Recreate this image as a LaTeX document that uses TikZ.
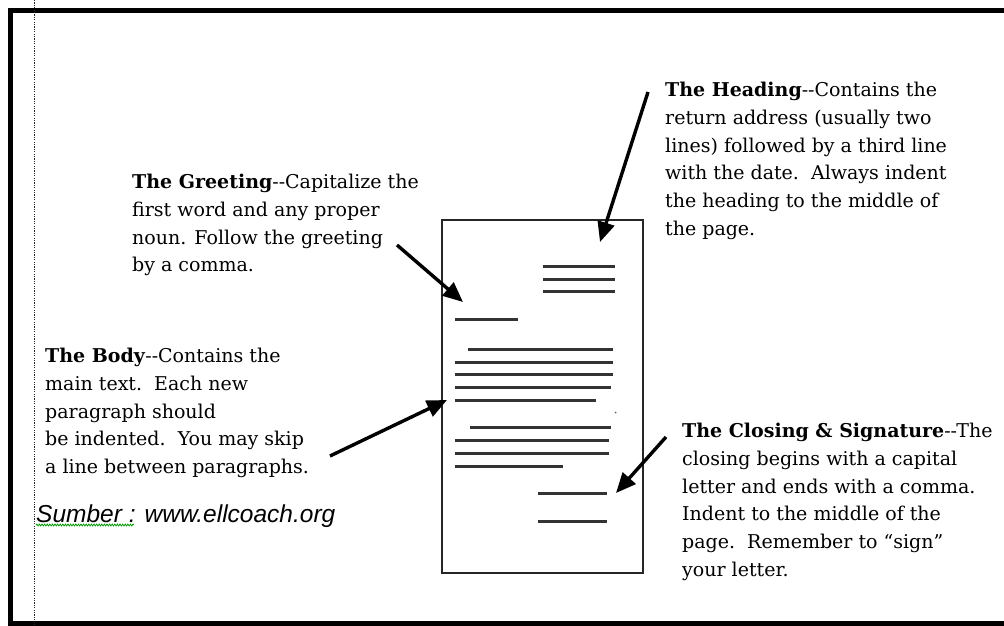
\documentclass[tikz,border=0pt]{standalone}
\usepackage{fontspec}
\setmainfont{DejaVu Serif}
\newfontfamily\srcfont{Liberation Sans}
\usetikzlibrary{arrows.meta,decorations.pathmorphing}
\begin{document}
\begin{tikzpicture}[x=1pt,y=-1pt,
  frame/.style={line width=4.5pt,black},
  guide/.style={black!85,line width=1.4pt,dash pattern=on 1.2pt off 1.2pt},
  page/.style={draw=black!85,line width=1.8pt,inner sep=0pt,anchor=north west},
  textline/.style={black!80,line width=3pt},
  pointer/.style={line width=3.4pt,-{Triangle[length=20pt,width=17pt]}},
  note/.style={anchor=north west,inner sep=0pt,align=left,font=\fontsize{19}{27.7}\selectfont},
  squiggle/.style={green!60!black,line width=0.8pt,decorate,decoration={snake,amplitude=0.9pt,segment length=2.6pt}},
]
\useasboundingbox (0,0) rectangle (1004,626);
\fill[white] (0,0) rectangle (1004,626);
% outer frame
\draw[frame] (1004,10.5) -- (10.5,10.5) -- (10.5,623.5) -- (1004,623.5);
% dotted guide
\draw[guide] (34.5,0) -- (34.5,626);

% the letter page
\node[page,minimum width=201pt,minimum height=353pt] (doc) at (441,219) {};
% heading lines
\draw[textline] (543,266) -- (615,266);
\draw[textline] (543,279) -- (615,279);
\draw[textline] (543,291) -- (615,291);
% greeting
\draw[textline] (455,319) -- (518,319);
% body paragraph 1
\draw[textline] (468,349) -- (613,349);
\draw[textline] (455,362) -- (613,362);
\draw[textline] (455,374) -- (613,374);
\draw[textline] (455,387) -- (611,387);
\draw[textline] (455,400) -- (596,400);
\fill[black!60] (615.5,412.5) circle (1pt);
% body paragraph 2
\draw[textline] (470,427) -- (611,427);
\draw[textline] (455,440) -- (609,440);
\draw[textline] (455,453) -- (609,453);
\draw[textline] (455,466) -- (563,466);
% closing and signature
\draw[textline] (538,493) -- (607,493);
\draw[textline] (538,521) -- (607,521);

% notes
\node[note] (heading) at (665,82) {\textbf{The Heading}{-}{-}Contains the\\
return address (usually two\\
lines) followed by a third line\\
with the date.\ \ Always indent\\
the heading to the middle of\\
the page.};
\node[note] (greeting) at (132,174) {\textbf{The Greeting}{-}{-}Capitalize the\\
first word and any proper\\
noun. Follow the greeting\\
by a comma.};
\node[note] (body) at (45,348) {\textbf{The Body}{-}{-}Contains the\\
main text.\ \ Each new\\
paragraph should\\
be indented.\ \ You may skip\\
a line between paragraphs.};
\node[note] (closing) at (682,423) {\textbf{The Closing \& Signature}{-}{-}The\\
closing begins with a capital\\
letter and ends with a comma.\\
Indent to the middle of the\\
page.\ \ Remember to “sign”\\
your letter.};

% arrows
\coordinate (hs) at (648,92);  \coordinate (ht) at (600,242);
\coordinate (gs) at (397,245); \coordinate (gt) at (463,302);
\coordinate (bs) at (330,456); \coordinate (bt) at (447,400);
\coordinate (cs) at (666,437); \coordinate (ct) at (616,493);
\draw[pointer] (hs) -- (ht);
\draw[pointer] (gs) -- (gt);
\draw[pointer] (bs) -- (bt);
\draw[pointer] (cs) -- (ct);

% source
\node[anchor=base west,inner sep=0pt,font=\srcfont\itshape\fontsize{24.5}{29}\selectfont] (src) at (36,522) {Sumber : www.ellcoach.org};
\coordinate (sqa) at (36,525); \coordinate (sqb) at (134,525);
\draw[squiggle] (sqa) -- (sqb);
\end{tikzpicture}
\end{document}
